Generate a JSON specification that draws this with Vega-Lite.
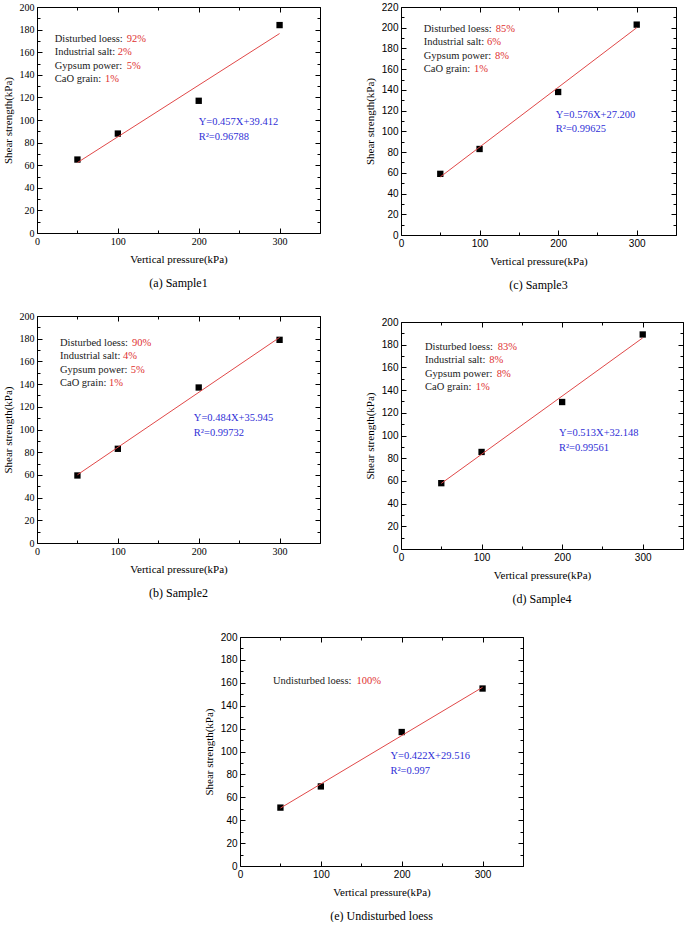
{
  "$schema": "https://vega.github.io/schema/vega-lite/v6.json",
  "padding": {"left": 2, "top": 2, "right": 0, "bottom": 0},
  "background": "white",
  "config": {
    "font": "Liberation Serif",
    "view": {"stroke": null},
    "axis": {"domainColor": "black", "tickColor": "black", "labelColor": "black", "titleColor": "black", "grid": false, "titleFont": "Liberation Serif", "titleFontWeight": "normal", "titleFontSize": 11, "labelFlush": false, "labelPadding": 8, "labelOverlap": false, "domainWidth": 1, "tickWidth": 1},
    "title": {"font": "Liberation Serif", "fontWeight": "normal", "fontSize": 12, "color": "black", "orient": "bottom", "offset": 14},
    "text": {"font": "Liberation Serif", "fontSize": 10.5, "align": "left", "baseline": "middle"}
  },
  "datasets": {
    "pa": [{"p": 50, "s": 65}, {"p": 100, "s": 88}, {"p": 200, "s": 117}, {"p": 300, "s": 184}],
    "la": [{"p": 50, "s": 62.3}, {"p": 300, "s": 176.5}],
    "ta": [
      {"p": 22, "s": 172, "t": "Disturbed loess: ", "k": "label"}, {"p": 111, "s": 172, "t": "92%", "k": "value"},
      {"p": 22, "s": 160, "t": "Industrial salt: ", "k": "label"}, {"p": 100, "s": 160, "t": "2%", "k": "value"},
      {"p": 22, "s": 148, "t": "Gypsum power: ", "k": "label"}, {"p": 111, "s": 148, "t": "5%", "k": "value"},
      {"p": 22, "s": 136, "t": "CaO grain: ", "k": "label"}, {"p": 84, "s": 136, "t": "1%", "k": "value"},
      {"p": 200, "s": 98, "t": "Y=0.457X+39.412", "k": "eq"}, {"p": 200, "s": 85, "t": "R²=0.96788", "k": "eq"}
    ],
    "pb": [{"p": 50, "s": 59.5}, {"p": 100, "s": 83}, {"p": 200, "s": 137}, {"p": 300, "s": 179}],
    "lb": [{"p": 50, "s": 60.1}, {"p": 300, "s": 181.1}],
    "tb": [
      {"p": 28.4, "s": 176, "t": "Disturbed loess: ", "k": "label"}, {"p": 117.5, "s": 176, "t": "90%", "k": "value"},
      {"p": 28.4, "s": 164.5, "t": "Industrial salt: ", "k": "label"}, {"p": 106.5, "s": 164.5, "t": "4%", "k": "value"},
      {"p": 28.4, "s": 152.5, "t": "Gypsum power: ", "k": "label"}, {"p": 116, "s": 152.5, "t": "5%", "k": "value"},
      {"p": 28.4, "s": 141, "t": "CaO grain: ", "k": "label"}, {"p": 89, "s": 141, "t": "1%", "k": "value"},
      {"p": 194, "s": 110, "t": "Y=0.484X+35.945", "k": "eq"}, {"p": 194, "s": 97, "t": "R²=0.99732", "k": "eq"}
    ],
    "pc": [{"p": 50, "s": 59}, {"p": 100, "s": 83}, {"p": 200, "s": 138}, {"p": 300, "s": 203}],
    "lc": [{"p": 50, "s": 56}, {"p": 300, "s": 200}],
    "tc": [
      {"p": 29, "s": 199, "t": "Disturbed loess: ", "k": "label"}, {"p": 120.5, "s": 199, "t": "85%", "k": "value"},
      {"p": 29, "s": 186, "t": "Industrial salt: ", "k": "label"}, {"p": 109.5, "s": 186, "t": "6%", "k": "value"},
      {"p": 29, "s": 173, "t": "Gypsum power: ", "k": "label"}, {"p": 119.6, "s": 173, "t": "8%", "k": "value"},
      {"p": 29, "s": 160, "t": "CaO grain: ", "k": "label"}, {"p": 93, "s": 160, "t": "1%", "k": "value"},
      {"p": 197, "s": 116, "t": "Y=0.576X+27.200", "k": "eq"}, {"p": 197, "s": 102, "t": "R²=0.99625", "k": "eq"}
    ],
    "pd": [{"p": 50, "s": 58}, {"p": 100, "s": 85.5}, {"p": 200, "s": 129.5}, {"p": 300, "s": 189}],
    "ld": [{"p": 50, "s": 57.8}, {"p": 300, "s": 186}],
    "td": [
      {"p": 29.8, "s": 178, "t": "Disturbed loess: ", "k": "label"}, {"p": 120, "s": 178, "t": "83%", "k": "value"},
      {"p": 29.8, "s": 166.3, "t": "Industrial salt: ", "k": "label"}, {"p": 109.6, "s": 166.3, "t": "8%", "k": "value"},
      {"p": 29.8, "s": 154.5, "t": "Gypsum power: ", "k": "label"}, {"p": 118.8, "s": 154.5, "t": "8%", "k": "value"},
      {"p": 29.8, "s": 142.5, "t": "CaO grain: ", "k": "label"}, {"p": 92.7, "s": 142.5, "t": "1%", "k": "value"},
      {"p": 196, "s": 102, "t": "Y=0.513X+32.148", "k": "eq"}, {"p": 196, "s": 89, "t": "R²=0.99561", "k": "eq"}
    ],
    "pe": [{"p": 50, "s": 51}, {"p": 100, "s": 69.5}, {"p": 200, "s": 117}, {"p": 300, "s": 155}],
    "le": [{"p": 50, "s": 50.6}, {"p": 300, "s": 156.1}],
    "te": [
      {"p": 40.8, "s": 162, "t": "Undisturbed loess: ", "k": "label"}, {"p": 144, "s": 162, "t": "100%", "k": "value"},
      {"p": 186, "s": 96, "t": "Y=0.422X+29.516", "k": "eq"}, {"p": 186, "s": 83, "t": "R²=0.997", "k": "eq"}
    ],
    "none": []
  },
  "spacing": 20,
  "vconcat": [
    {
      "spacing": 43,
      "hconcat": [
        {
          "width": 283, "height": 226,
          "title": {"text": "(a)  Sample1"},
          "resolve": {"axis": {"x": "independent", "y": "independent"}},
          "layer": [
            {"data": {"name": "pa"}, "mark": {"type": "square", "size": 40, "color": "black", "opacity": 1},
             "encoding": {
               "x": {"field": "p", "type": "quantitative", "scale": {"domain": [0, 350], "nice": false}, "axis": {"orient": "bottom", "values": [0, 50, 100, 150, 200, 250, 300, 350], "labelExpr": "datum.value % 100 === 0 ? datum.label : ''", "tickSize": {"condition": {"test": "datum.value % 100 === 0", "value": -5}, "value": -3}, "labelFont": "Liberation Serif", "labelFontSize": 10, "title": "Vertical pressure(kPa)", "titleFontWeight": "normal", "titlePadding": 5}},
               "y": {"field": "s", "type": "quantitative", "scale": {"domain": [0, 200], "nice": false}, "axis": {"orient": "left", "values": [0, 10, 20, 30, 40, 50, 60, 70, 80, 90, 100, 110, 120, 130, 140, 150, 160, 170, 180, 190, 200], "labelExpr": "datum.value % 20 === 0 ? datum.label : ''", "tickSize": {"condition": {"test": "datum.value % 20 === 0", "value": -5}, "value": -3}, "labelFont": "Liberation Serif", "labelFontSize": 10, "title": "Shear strength(kPa)", "titleFontWeight": "normal", "titlePadding": 6}}
             }},
            {"data": {"name": "la"}, "mark": {"type": "line", "color": "#e04848", "strokeWidth": 1},
             "encoding": {
               "x": {"field": "p", "type": "quantitative", "axis": {"orient": "top", "values": [0, 50, 100, 150, 200, 250, 300, 350], "labels": false, "title": null, "tickSize": {"condition": {"test": "datum.value % 100 === 0", "value": -5}, "value": -3}}},
               "y": {"field": "s", "type": "quantitative", "axis": {"orient": "right", "values": [0, 10, 20, 30, 40, 50, 60, 70, 80, 90, 100, 110, 120, 130, 140, 150, 160, 170, 180, 190, 200], "labels": false, "title": null, "tickSize": {"condition": {"test": "datum.value % 20 === 0", "value": -5}, "value": -3}}}
             }},
            {"data": {"name": "ta"}, "mark": {"type": "text"},
             "encoding": {
               "x": {"field": "p", "type": "quantitative", "axis": null},
               "y": {"field": "s", "type": "quantitative", "axis": null},
               "text": {"field": "t"},
               "color": {"field": "k", "type": "nominal", "scale": {"domain": ["label", "value", "eq"], "range": ["#1a1a1a", "#e03030", "#2f2fd6"]}, "legend": null}
             }}
          ]
        },
        {
          "width": 275, "height": 228,
          "title": {"text": "(c)  Sample3"},
          "resolve": {"axis": {"x": "independent", "y": "independent"}},
          "layer": [
            {"data": {"name": "pc"}, "mark": {"type": "square", "size": 40, "color": "black", "opacity": 1},
             "encoding": {
               "x": {"field": "p", "type": "quantitative", "scale": {"domain": [0, 350], "nice": false}, "axis": {"orient": "bottom", "values": [0, 50, 100, 150, 200, 250, 300, 350], "labelExpr": "datum.value % 100 === 0 ? datum.label : ''", "tickSize": {"condition": {"test": "datum.value % 100 === 0", "value": -5}, "value": -3}, "labelFont": "Liberation Sans", "labelFontSize": 10, "title": "Vertical pressure(kPa)", "titleFontWeight": "normal", "titlePadding": 5}},
               "y": {"field": "s", "type": "quantitative", "scale": {"domain": [0, 220], "nice": false}, "axis": {"orient": "left", "values": [0, 10, 20, 30, 40, 50, 60, 70, 80, 90, 100, 110, 120, 130, 140, 150, 160, 170, 180, 190, 200, 210, 220], "labelExpr": "datum.value % 20 === 0 ? datum.label : ''", "tickSize": {"condition": {"test": "datum.value % 20 === 0", "value": -5}, "value": -3}, "labelFont": "Liberation Sans", "labelFontSize": 10, "title": "Shear strength(kPa)", "titleFontWeight": "normal", "titlePadding": 6}}
             }},
            {"data": {"name": "lc"}, "mark": {"type": "line", "color": "#e04848", "strokeWidth": 1},
             "encoding": {
               "x": {"field": "p", "type": "quantitative", "axis": {"orient": "top", "values": [0, 50, 100, 150, 200, 250, 300, 350], "labels": false, "title": null, "tickSize": {"condition": {"test": "datum.value % 100 === 0", "value": -5}, "value": -3}}},
               "y": {"field": "s", "type": "quantitative", "axis": {"orient": "right", "values": [0, 10, 20, 30, 40, 50, 60, 70, 80, 90, 100, 110, 120, 130, 140, 150, 160, 170, 180, 190, 200, 210, 220], "labels": false, "title": null, "tickSize": {"condition": {"test": "datum.value % 20 === 0", "value": -5}, "value": -3}}}
             }},
            {"data": {"name": "tc"}, "mark": {"type": "text"},
             "encoding": {
               "x": {"field": "p", "type": "quantitative", "axis": null},
               "y": {"field": "s", "type": "quantitative", "axis": null},
               "text": {"field": "t"},
               "color": {"field": "k", "type": "nominal", "scale": {"domain": ["label", "value", "eq"], "range": ["#1a1a1a", "#e03030", "#2f2fd6"]}, "legend": null}
             }}
          ]
        }
      ]
    },
    {
      "spacing": 43,
      "hconcat": [
        {
          "width": 283, "height": 227,
          "title": {"text": "(b)  Sample2"},
          "resolve": {"axis": {"x": "independent", "y": "independent"}},
          "layer": [
            {"data": {"name": "pb"}, "mark": {"type": "square", "size": 40, "color": "black", "opacity": 1},
             "encoding": {
               "x": {"field": "p", "type": "quantitative", "scale": {"domain": [0, 350], "nice": false}, "axis": {"orient": "bottom", "values": [0, 50, 100, 150, 200, 250, 300, 350], "labelExpr": "datum.value % 100 === 0 ? datum.label : ''", "tickSize": {"condition": {"test": "datum.value % 100 === 0", "value": -5}, "value": -3}, "labelFont": "Liberation Serif", "labelFontSize": 10, "title": "Vertical pressure(kPa)", "titleFontWeight": "normal", "titlePadding": 5}},
               "y": {"field": "s", "type": "quantitative", "scale": {"domain": [0, 200], "nice": false}, "axis": {"orient": "left", "values": [0, 10, 20, 30, 40, 50, 60, 70, 80, 90, 100, 110, 120, 130, 140, 150, 160, 170, 180, 190, 200], "labelExpr": "datum.value % 20 === 0 ? datum.label : ''", "tickSize": {"condition": {"test": "datum.value % 20 === 0", "value": -5}, "value": -3}, "labelFont": "Liberation Serif", "labelFontSize": 10, "title": "Shear strength(kPa)", "titleFontWeight": "normal", "titlePadding": 6}}
             }},
            {"data": {"name": "lb"}, "mark": {"type": "line", "color": "#e04848", "strokeWidth": 1},
             "encoding": {
               "x": {"field": "p", "type": "quantitative", "axis": {"orient": "top", "values": [0, 50, 100, 150, 200, 250, 300, 350], "labels": false, "title": null, "tickSize": {"condition": {"test": "datum.value % 100 === 0", "value": -5}, "value": -3}}},
               "y": {"field": "s", "type": "quantitative", "axis": {"orient": "right", "values": [0, 10, 20, 30, 40, 50, 60, 70, 80, 90, 100, 110, 120, 130, 140, 150, 160, 170, 180, 190, 200], "labels": false, "title": null, "tickSize": {"condition": {"test": "datum.value % 20 === 0", "value": -5}, "value": -3}}}
             }},
            {"data": {"name": "tb"}, "mark": {"type": "text"},
             "encoding": {
               "x": {"field": "p", "type": "quantitative", "axis": null},
               "y": {"field": "s", "type": "quantitative", "axis": null},
               "text": {"field": "t"},
               "color": {"field": "k", "type": "nominal", "scale": {"domain": ["label", "value", "eq"], "range": ["#1a1a1a", "#e03030", "#2f2fd6"]}, "legend": null}
             }}
          ]
        },
        {
          "spacing": 0,
          "vconcat": [
            {"width": 10, "height": 1, "data": {"name": "none"}, "mark": {"type": "point", "opacity": 0}, "encoding": {}},
            {
              "width": 282, "height": 227,
              "title": {"text": "(d)  Sample4"},
              "resolve": {"axis": {"x": "independent", "y": "independent"}},
              "layer": [
                {"data": {"name": "pd"}, "mark": {"type": "square", "size": 40, "color": "black", "opacity": 1},
                 "encoding": {
                   "x": {"field": "p", "type": "quantitative", "scale": {"domain": [0, 350], "nice": false}, "axis": {"orient": "bottom", "values": [0, 50, 100, 150, 200, 250, 300, 350], "labelExpr": "datum.value % 100 === 0 ? datum.label : ''", "tickSize": {"condition": {"test": "datum.value % 100 === 0", "value": -5}, "value": -3}, "labelFont": "Liberation Sans", "labelFontSize": 10, "title": "Vertical pressure(kPa)", "titleFontWeight": "normal", "titlePadding": 5}},
                   "y": {"field": "s", "type": "quantitative", "scale": {"domain": [0, 200], "nice": false}, "axis": {"orient": "left", "values": [0, 10, 20, 30, 40, 50, 60, 70, 80, 90, 100, 110, 120, 130, 140, 150, 160, 170, 180, 190, 200], "labelExpr": "datum.value % 20 === 0 ? datum.label : ''", "tickSize": {"condition": {"test": "datum.value % 20 === 0", "value": -5}, "value": -3}, "labelFont": "Liberation Sans", "labelFontSize": 10, "title": "Shear strength(kPa)", "titleFontWeight": "normal", "titlePadding": 6}}
                 }},
                {"data": {"name": "ld"}, "mark": {"type": "line", "color": "#e04848", "strokeWidth": 1},
                 "encoding": {
                   "x": {"field": "p", "type": "quantitative", "axis": {"orient": "top", "values": [0, 50, 100, 150, 200, 250, 300, 350], "labels": false, "title": null, "tickSize": {"condition": {"test": "datum.value % 100 === 0", "value": -5}, "value": -3}}},
                   "y": {"field": "s", "type": "quantitative", "axis": {"orient": "right", "values": [0, 10, 20, 30, 40, 50, 60, 70, 80, 90, 100, 110, 120, 130, 140, 150, 160, 170, 180, 190, 200], "labels": false, "title": null, "tickSize": {"condition": {"test": "datum.value % 20 === 0", "value": -5}, "value": -3}}}
                 }},
                {"data": {"name": "td"}, "mark": {"type": "text"},
                 "encoding": {
                   "x": {"field": "p", "type": "quantitative", "axis": null},
                   "y": {"field": "s", "type": "quantitative", "axis": null},
                   "text": {"field": "t"},
                   "color": {"field": "k", "type": "nominal", "scale": {"domain": ["label", "value", "eq"], "range": ["#1a1a1a", "#e03030", "#2f2fd6"]}, "legend": null}
                 }}
              ]
            }
          ]
        }
      ]
    },
    {
      "spacing": 0,
      "hconcat": [
        {"width": 166, "height": 10, "data": {"name": "none"}, "mark": {"type": "point", "opacity": 0}, "encoding": {}},
        {
          "width": 283, "height": 229,
          "title": {"text": "(e)  Undisturbed loess"},
          "resolve": {"axis": {"x": "independent", "y": "independent"}},
          "layer": [
            {"data": {"name": "pe"}, "mark": {"type": "square", "size": 40, "color": "black", "opacity": 1},
             "encoding": {
               "x": {"field": "p", "type": "quantitative", "scale": {"domain": [0, 350], "nice": false}, "axis": {"orient": "bottom", "values": [0, 50, 100, 150, 200, 250, 300, 350], "labelExpr": "datum.value % 100 === 0 ? datum.label : ''", "tickSize": {"condition": {"test": "datum.value % 100 === 0", "value": -5}, "value": -3}, "labelFont": "Liberation Sans", "labelFontSize": 10, "title": "Vertical pressure(kPa)", "titleFontWeight": "normal", "titlePadding": 5}},
               "y": {"field": "s", "type": "quantitative", "scale": {"domain": [0, 200], "nice": false}, "axis": {"orient": "left", "values": [0, 10, 20, 30, 40, 50, 60, 70, 80, 90, 100, 110, 120, 130, 140, 150, 160, 170, 180, 190, 200], "labelExpr": "datum.value % 20 === 0 ? datum.label : ''", "tickSize": {"condition": {"test": "datum.value % 20 === 0", "value": -5}, "value": -3}, "labelFont": "Liberation Sans", "labelFontSize": 10, "title": "Shear strength(kPa)", "titleFontWeight": "normal", "titlePadding": 6}}
             }},
            {"data": {"name": "le"}, "mark": {"type": "line", "color": "#e04848", "strokeWidth": 1},
             "encoding": {
               "x": {"field": "p", "type": "quantitative", "axis": {"orient": "top", "values": [0, 50, 100, 150, 200, 250, 300, 350], "labels": false, "title": " ", "titleFontSize": 2, "titlePadding": 9, "tickSize": {"condition": {"test": "datum.value % 100 === 0", "value": -5}, "value": -3}}},
               "y": {"field": "s", "type": "quantitative", "axis": {"orient": "right", "values": [0, 10, 20, 30, 40, 50, 60, 70, 80, 90, 100, 110, 120, 130, 140, 150, 160, 170, 180, 190, 200], "labels": false, "title": null, "tickSize": {"condition": {"test": "datum.value % 20 === 0", "value": -5}, "value": -3}}}
             }},
            {"data": {"name": "te"}, "mark": {"type": "text"},
             "encoding": {
               "x": {"field": "p", "type": "quantitative", "axis": null},
               "y": {"field": "s", "type": "quantitative", "axis": null},
               "text": {"field": "t"},
               "color": {"field": "k", "type": "nominal", "scale": {"domain": ["label", "value", "eq"], "range": ["#1a1a1a", "#e03030", "#2f2fd6"]}, "legend": null}
             }}
          ]
        }
      ]
    }
  ]
}
